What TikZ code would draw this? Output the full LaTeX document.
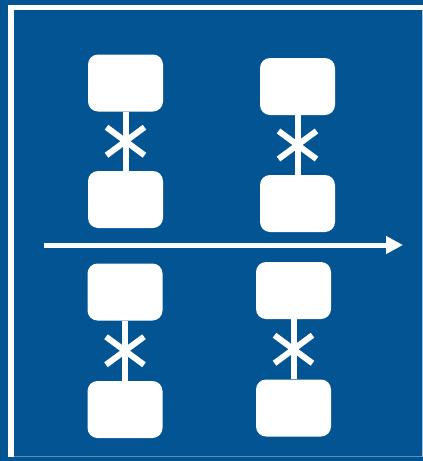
\documentclass[tikz,border=0pt]{standalone}
\usetikzlibrary{arrows.meta}
\definecolor{bgblue}{RGB}{2,84,146}
\tikzset{
  box/.style={fill=white, draw=none, rounded corners=10pt, minimum width=75pt, minimum height=57pt, inner sep=0pt},
  link/.style={draw=white, line width=6pt},
  cross/.style={draw=white, line width=6pt},
  timeline/.style={draw=white, line width=5pt, -{Triangle[length=17pt,width=17pt]}}
}
\begin{document}
\begin{tikzpicture}[x=1pt,y=-1pt]
  \fill[bgblue] (0,0) rectangle (423,461);
  \useasboundingbox (0,0) rectangle (423,461);
  % white frame
  \fill[white] (8,5) rectangle (14,457);
  \fill[white] (8,5) rectangle (423,10);
  \fill[white!65!bgblue] (421.8,10) rectangle (423,457);
  \fill[white!35!bgblue] (14,455.8) rectangle (422,457);
  % boxes
  \node[box] (a1) at (125.5,83) {};
  \node[box] (a2) at (125.5,199.5) {};
  \node[box] (b1) at (297.5,86.5) {};
  \node[box] (b2) at (297.5,203.5) {};
  \node[box] (c1) at (125,292) {};
  \node[box] (c2) at (125,409.5) {};
  \node[box] (d1) at (293.5,290.5) {};
  \node[box] (d2) at (293.5,408) {};
  % links
  \draw[link] (a1) -- (a2) coordinate[midway] (xa);
  \draw[link] (b1) -- (b2) coordinate[midway] (xb);
  \draw[link] (c1) -- (c2) coordinate[midway] (xc);
  \draw[link] (d1) -- (d2) coordinate[midway] (xd);
  % crosses
  \foreach \c in {xa,xb,xc,xd}{
    \draw[cross] ([shift={(-19,-14)}]\c) -- ([shift={(19,14)}]\c);
    \draw[cross] ([shift={(-19,14)}]\c) -- ([shift={(19,-14)}]\c);
  }
  % timeline
  \coordinate (t0) at (44,245);
  \coordinate (t1) at (403,245);
  \draw[timeline] (t0) -- (t1);
\end{tikzpicture}
\end{document}
